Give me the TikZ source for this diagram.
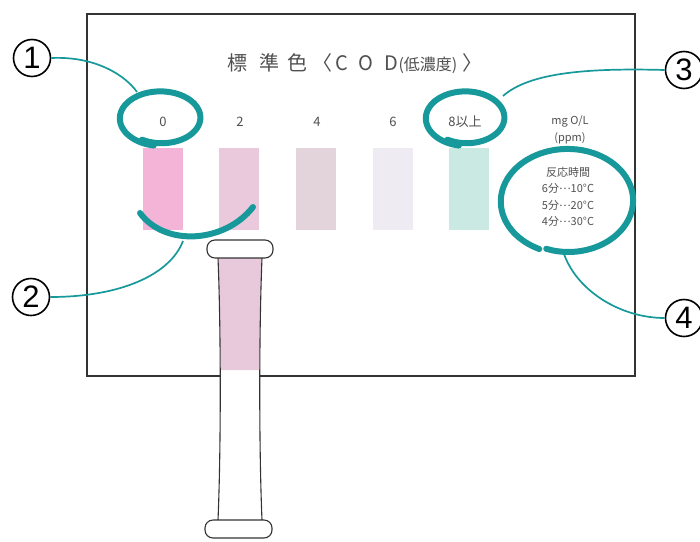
\documentclass[tikz,border=0pt]{standalone}
\usepackage{fontspec}
\setmainfont{Liberation Sans}
\newfontfamily\jp{Noto Sans CJK JP}

\definecolor{marker}{HTML}{17999B}
\definecolor{inkgray}{HTML}{505050}
\definecolor{cardline}{HTML}{333333}
\definecolor{codA}{HTML}{F4B4D7}
\definecolor{codB}{HTML}{EBC9DD}
\definecolor{codC}{HTML}{E3D3DA}
\definecolor{codD}{HTML}{EFEBF2}
\definecolor{codE}{HTML}{CBE9E3}
\definecolor{sample}{HTML}{E8C9DC}

\newcommand{\middots}{\raisebox{3pt}{…}}

\tikzset{
  % marker strokes and leaders
  pen/.style={draw=marker, line width=6pt, line cap=round, line join=round},
  leader/.style={draw=marker, line width=1.7pt},
  numlabel/.style={circle, draw, line width=1.6pt, minimum size=37pt, inner sep=0pt,
    font=\fontsize{31}{31}\selectfont},
  % items on the colour card
  swatch/.style={rectangle, fill=#1, minimum width=40pt, minimum height=82pt, inner sep=0pt},
  value/.style={text=inkgray, font=\jp\fontsize{13}{13}\selectfont, inner sep=0pt},
  small/.style={text=inkgray, font=\jp\fontsize{11}{16.5}\selectfont, align=center, inner sep=0pt}
}

\begin{document}
\begin{tikzpicture}[x=1pt, y=-1pt]
    \useasboundingbox[fill=white] (0,0) rectangle (700,541);

    % the card
    \draw[cardline, line width=1.3pt] (87,14) rectangle (635,376);
    \node[text=inkgray, inner sep=0pt, anchor=west] (title) at (227,64)
      {\jp\fontsize{20}{20}\selectfont 標\hspace{12pt}準\hspace{8pt}色\hspace{5pt}〈\hspace{3pt}C\hspace{11pt}O\hspace{11pt}D{\fontsize{16}{16}\selectfont (低濃度)}\hspace{5pt}〉};

    % scale values and swatches
    \node[value] (l0) at (163,122) {0};
    \node[value] (l2) at (240,122) {2};
    \node[value] (l4) at (317,122) {4};
    \node[value] (l6) at (393,122) {6};
    \node[value] (l8) at (465,122) {8以上};
    \node[swatch=codA] (s0) at (163,189) {};
    \node[swatch=codB] (s2) at (239,189) {};
    \node[swatch=codC] (s4) at (316,189) {};
    \node[swatch=codD] (s6) at (393,189) {};
    \node[swatch=codE] (s8) at (469,189) {};

    \node[small] (unit) at (570,130) {mg O/L\\(ppm)};
    \node[small] (time) at (568,197) {反応時間\\6分\middots10°C\\5分\middots20°C\\4分\middots30°C};

    % test tube
    \path[fill=white] (218,258) .. controls (221,330) and (221,450) .. (218,520)
      -- (262,520) .. controls (259,450) and (259,330) .. (262,258) -- cycle;
    \fill[sample] (218,258) .. controls (219.5,290) and (220.3,330) .. (220.6,370)
      -- (259.4,370) .. controls (259.7,330) and (260.5,290) .. (262,258) -- cycle;
    \draw[cardline, line width=1.1pt] (218,258) .. controls (221,330) and (221,450) .. (218,520);
    \draw[cardline, line width=1.1pt] (262,258) .. controls (259,330) and (259,450) .. (262,520);
    \draw[cardline, line width=1.1pt, fill=white, rounded corners=8pt] (207,240) rectangle (273,258);
    \draw[cardline, line width=1.1pt, fill=white, rounded corners=8pt] (205,520) rectangle (272,538);

    % marker rings
    \draw[pen] plot[smooth, domain=100:480, samples=40]
      ({161+(42-0.01*(\x-100))*cos(\x)}, {118+(28-0.008*(\x-100))*sin(\x)});
    \draw[pen] (140,213) .. controls (165,247) and (225,243) .. (253,207);
    \draw[pen] plot[smooth, domain=100:480, samples=40]
      ({466+(41-0.01*(\x-100))*cos(\x)}, {118+(28-0.008*(\x-100))*sin(\x)});
    \draw[pen] plot[smooth, domain=115:470, samples=50]
      ({568+(68-0.012*(\x-115))*cos(\x)}, {201+(53-0.006*(\x-115))*sin(\x)});

    % numbered call-outs
    \node[numlabel] (n1) at (32,58) {1};
    \node[numlabel] (n2) at (31,297) {2};
    \node[numlabel] (n3) at (684,70) {3};
    \node[numlabel] (n4) at (684,318) {4};
    \coordinate (r1) at (137,92);
    \coordinate (r2) at (183,241);
    \coordinate (r3) at (503,96);
    \coordinate (r4) at (563,251);
    \draw[leader] (n1.east) .. controls (95,56) and (125,75) .. (r1);
    \draw[leader] (n2.east) .. controls (120,297) and (170,275) .. (r2);
    \draw[leader] (n3.west) .. controls (590,68) and (530,72) .. (r3);
    \draw[leader] (r4) .. controls (575,290) and (620,318) .. (n4.west);
\end{tikzpicture}
\end{document}
